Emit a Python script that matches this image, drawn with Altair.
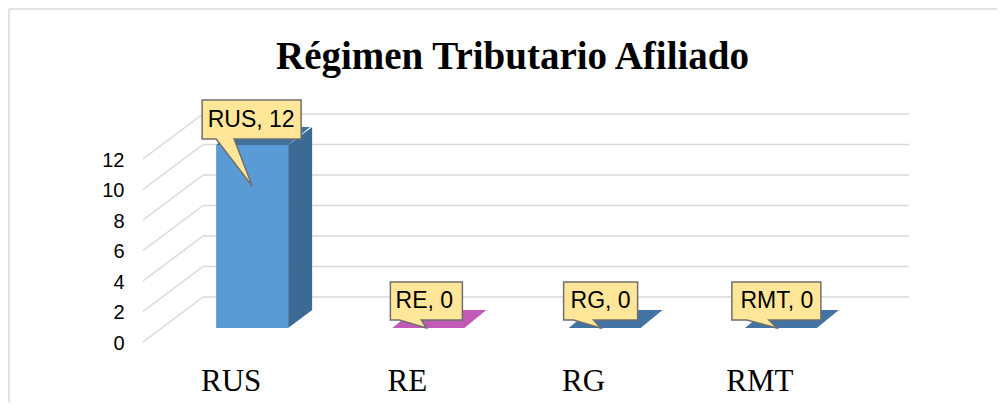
import altair as alt
import pandas as pd

# ---- data ----
cats = ["RUS", "RE", "RG", "RMT"]
values = [12, 0, 0, 0]
ticks = [0, 2, 4, 6, 8, 10, 12]
title_text = "Régimen Tributario Afiliado"

# ---- styles ----
FRONT = "#5b9bd5"
SIDE = "#3c6a94"
TOP = ["#41709c", "#c05ab6", "#4273a3", "#4273a3"]
BUBBLE_FILL = "#ffe699"
BUBBLE_STROKE = "#6f6f6f"
GRID = "#d9d9d9"
SYM = 40000  # custom symbol scale: 1 unit = 100 px


def path(pts):
    return "M" + " L".join(f"{x / 100:.3f},{y / 100:.3f}" for x, y in pts) + " Z"


def bubble(L, R, T, B, tl, tr, tx, ty):
    return path([(L, T), (R, T), (R, B), (tr, B), (tx, ty), (tl, B), (L, B)])


BUBBLES = [
    bubble(-50, 49, -45, -6, -36, -18, 0, 41),
    bubble(-38, 34, -46, -8, -29, -7, -2, 0),
    bubble(-41, 33, -46, -8, -31, -11, -4, 0),
    bubble(-49, 40, -46, -8, -34, -12, -4, 0),
]
TRI_TOP = path([(0, 0), (24, -18), (24, 0)])
TRI_BOT = path([(0, -18), (24, -18), (0, 0)])
TOP_FACE = path([(-36, 0), (36, 0), (58, -18), (-14, -18)])

df = pd.DataFrame({"cat": cats, "value": values})
tk = pd.DataFrame({"tick": ticks})
one = pd.DataFrame({"k": [0]})

xscale = alt.Scale(type="band", domain=cats, paddingInner=0.5916, paddingOuter=0.2958)
X = alt.X("cat:N", sort=cats, title=None, scale=xscale)
yscale = alt.Scale(domain=[0, 12], nice=False, zero=True)
Y = alt.Y("value:Q", title=None, scale=yscale, stack=None)

frame_top = alt.Chart(one).mark_rule(color=GRID, strokeWidth=1.5).encode(
    x=alt.value(-155), x2=alt.value(835), y=alt.value(-136))
frame_left = alt.Chart(one).mark_rule(color=GRID, strokeWidth=1.5).encode(
    x=alt.value(-155), y=alt.value(-136), y2=alt.value(270))

back_grid = alt.Chart(tk).mark_rule(color=GRID, strokeWidth=1.5, yOffset=-31).encode(
    x=alt.value(39), x2=alt.value(745), y=alt.Y("tick:Q", title=None, scale=yscale))
diag_grid = alt.Chart(tk).mark_rule(color=GRID, strokeWidth=1.5, yOffset=14, y2Offset=-31).encode(
    x=alt.value(-21), x2=alt.value(39), y=alt.Y("tick:Q", title=None), y2="tick:Q")

base_pos = alt.Chart(df).transform_filter("datum.value > 0").transform_calculate(zero="0")

side_rect = base_pos.mark_rule(
    color=SIDE, strokeWidth=24, strokeCap="butt", xOffset=48, yOffset=0, y2Offset=-18).encode(
    x=X, y=Y, y2=alt.Y2("zero:Q"))
side_top = base_pos.mark_point(
    shape=TRI_TOP, size=SYM, filled=True, opacity=1, color=SIDE, strokeWidth=0, xOffset=36
).encode(x=X, y=Y)
side_bot = base_pos.mark_point(
    shape=TRI_BOT, size=SYM, filled=True, opacity=1, color=SIDE, strokeWidth=0, xOffset=36
).encode(x=X, y=alt.Y("zero:Q", title=None))

front = alt.Chart(df).mark_bar(color=FRONT).encode(
    x=X, y=alt.Y("value:Q", title=None, scale=yscale, stack=None,
                 axis=alt.Axis(values=ticks, labelOverlap=False, tickCount=7)))

top_face = alt.Chart(df).mark_point(
    shape=TOP_FACE, size=SYM, filled=True, opacity=1, strokeWidth=0
).encode(x=X, y=Y, color=alt.Color("cat:N", scale=alt.Scale(domain=cats, range=TOP), legend=None))

bubbles = alt.Chart(df).mark_point(
    size=SYM, filled=True, opacity=1, fill=BUBBLE_FILL, stroke=BUBBLE_STROKE, strokeWidth=1.5
).encode(x=X, y=Y, shape=alt.Shape("cat:N", scale=alt.Scale(domain=cats, range=BUBBLES), legend=None))

lab = alt.Chart(df).transform_calculate(label="datum.cat + ', ' + datum.value")
text_big = lab.transform_filter("datum.value > 0").mark_text(
    font="Liberation Sans", fontSize=23, color="black", dx=-1, dy=-25, baseline="middle", align="center"
).encode(x=X, y=Y, text="label:N")
text_zero = lab.transform_filter("datum.value <= 0").mark_text(
    font="Liberation Sans", fontSize=23, color="black", dx=-4, dy=-27, baseline="middle", align="center"
).encode(x=X, y=Y, text="label:N")

chart = alt.layer(
    frame_top, frame_left, back_grid, diag_grid, side_rect, side_top, side_bot,
    front, top_face, bubbles, text_big, text_zero
).properties(
    width=705, height=183,
    padding={"left": 156, "top": 137, "right": 128, "bottom": 74},
    autosize=alt.AutoSizeParams(type="none"),
    title=alt.TitleParams(title_text, font="Liberation Serif", fontSize=39, fontWeight="bold",
                          color="black", anchor="middle", dx=-4, offset=0, dy=100,
                          baseline="alphabetic"),
).configure_view(stroke=None).configure_axisX(
    domain=False, ticks=False, grid=False, labelFont="Liberation Serif", labelFontSize=31,
    labelColor="black", labelAngle=0, labelOffset=-21, labelPadding=62, labelBaseline="alphabetic"
).configure_axisY(
    domain=False, ticks=False, grid=False, labelFont="Liberation Sans", labelFontSize=20,
    labelColor="black", labelPadding=40, labelOffset=15, labelOverlap=False, tickCount=7
)

chart.save("out.html", embed_options={"renderer": "svg", "actions": False})
